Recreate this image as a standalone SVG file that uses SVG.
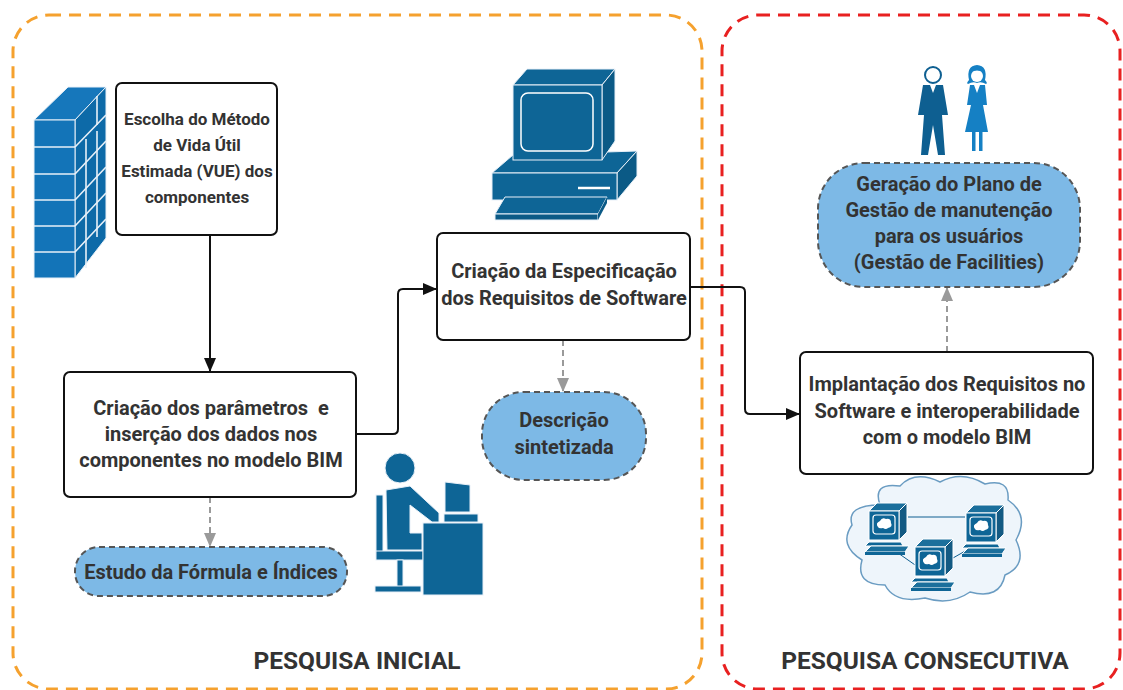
<svg xmlns="http://www.w3.org/2000/svg" xmlns:xlink="http://www.w3.org/1999/xlink" width="1123" height="690" viewBox="0 0 1123 690">
  <style>
    .txt { font-family: Roboto, "Liberation Sans", sans-serif; font-weight: 700; font-size: 20px; fill: #333333; text-anchor: middle; }
    .txt.sm { font-size: 17px; }
    .title { font-family: Roboto, "Liberation Sans", sans-serif; font-weight: 700; font-size: 24.5px; fill: #333333; text-anchor: middle; }
    .box { fill: #ffffff; stroke: #111111; stroke-width: 2; }
    .pill { fill: #7db9e6; stroke: #555555; stroke-width: 2; stroke-dasharray: 6 4; }
    .flow { fill: none; stroke: #111111; stroke-width: 2; }
    .note { fill: none; stroke: #9a9a9a; stroke-width: 2; stroke-dasharray: 6 4; }
    .ico { fill: #0e6596; }
  </style>
  <defs>
    <marker id="arrBlack" markerWidth="14" markerHeight="12" refX="13" refY="6" orient="auto" markerUnits="userSpaceOnUse">
      <path d="M0,0 L14,6 L0,12 Z" fill="#111111"/>
    </marker>
    <marker id="arrGrey" markerWidth="14" markerHeight="12" refX="13" refY="6" orient="auto" markerUnits="userSpaceOnUse">
      <path d="M0,0 L14,6 L0,12 Z" fill="#9a9a9a"/>
    </marker>
    <!-- small networked workstation -->
    <g id="ws">
      <path d="M0,9 L8,1 L38,1 L30,9 Z" fill="#1b6f9c" stroke="#ffffff" stroke-width="1"/>
      <path d="M30,9 L38,1 L38,30 L30,38 Z" fill="#135a83" stroke="#ffffff" stroke-width="1"/>
      <rect x="0" y="9" width="30" height="29" fill="#0e6596" stroke="#ffffff" stroke-width="1"/>
      <rect x="4" y="13" width="22" height="19" rx="3" fill="#0e6596" stroke="#ffffff" stroke-width="1.2"/>
      <path d="M9,25 q-3,-4 2,-6 q2,-4 6,-2 q5,-1 5,4 q2,4 -3,5 q-2,2 -5,0 q-4,1 -5,-1 Z" fill="#ffffff"/>
      <path d="M0,40 L32,40 L34,44 L-4,44 Z" fill="#0e6596" stroke="#ffffff" stroke-width="1"/>
      <path d="M2,44 L40,44 L36,50 L-4,50 Z" fill="#1b6f9c" stroke="#ffffff" stroke-width="1"/>
      <path d="M-4,50 L36,50 L36,53 L-4,53 Z" fill="#0e6596"/>
    </g>
  </defs>

  <!-- phase frames -->
  <g id="phase-inicial">
    <rect x="13" y="15" width="689" height="674" rx="36" fill="none" stroke="#f5a12e" stroke-width="3" stroke-dasharray="12 8"/>
    <text class="title" x="357" y="669">PESQUISA INICIAL</text>
  </g>
  <g id="phase-consecutiva">
    <rect x="722" y="15" width="398" height="674" rx="36" fill="none" stroke="#e82020" stroke-width="3" stroke-dasharray="12 8"/>
    <text class="title" x="925" y="669">PESQUISA CONSECUTIVA</text>
  </g>

  <!-- connectors -->
  <g id="connectors">
    <path class="flow" d="M210,235 L210,371" marker-end="url(#arrBlack)"/>
    <path class="flow" d="M356,434 L393,434 Q398,434 398,429 L398,294 Q398,289 403,289 L436,289" marker-end="url(#arrBlack)"/>
    <path class="flow" d="M690,287 L740,287 Q745,287 745,292 L745,409 Q745,414 750,414 L799,414" marker-end="url(#arrBlack)"/>
    <path class="note" d="M210,497 L210,546" marker-end="url(#arrGrey)"/>
    <path class="note" d="M563,340 L563,391" marker-end="url(#arrGrey)"/>
    <path class="note" d="M947,352 L947,288" marker-end="url(#arrGrey)"/>
  </g>

  <!-- process nodes -->
  <g id="n-metodo">
    <rect class="box" x="116" y="83" width="161" height="152" rx="6"/>
    <text class="txt sm" x="197" y="125">Escolha do Método</text>
    <text class="txt sm" x="197" y="151">de Vida Útil</text>
    <text class="txt sm" x="197" y="177">Estimada (VUE) dos</text>
    <text class="txt sm" x="197" y="203">componentes</text>
  </g>
  <g id="n-parametros">
    <rect class="box" x="64" y="372" width="292" height="125" rx="6"/>
    <text class="txt" x="211" y="415" xml:space="preserve">Criação dos parâmetros  e</text>
    <text class="txt" x="211" y="441">inserção dos dados nos</text>
    <text class="txt" x="211" y="467">componentes no modelo BIM</text>
  </g>
  <g id="n-especificacao">
    <rect class="box" x="437" y="233" width="253" height="107" rx="6"/>
    <text class="txt" x="564" y="278">Criação da Especificação</text>
    <text class="txt" x="564" y="305">dos Requisitos de Software</text>
  </g>
  <g id="n-implantacao">
    <rect class="box" x="800" y="352" width="293" height="122" rx="6"/>
    <text class="txt" x="947" y="391">Implantação dos Requisitos no</text>
    <text class="txt" x="947" y="418">Software e interoperabilidade</text>
    <text class="txt" x="947" y="444">com o modelo BIM</text>
  </g>

  <!-- terminal nodes -->
  <g id="t-formula">
    <rect class="pill" x="75" y="547" width="272" height="49" rx="24"/>
    <text class="txt" x="211" y="579">Estudo da Fórmula e Índices</text>
  </g>
  <g id="t-descricao">
    <rect class="pill" x="482" y="392" width="164" height="88" rx="42"/>
    <text class="txt" x="564" y="427">Descrição</text>
    <text class="txt" x="564" y="454">sintetizada</text>
  </g>
  <g id="t-gestao">
    <rect class="pill" x="818" y="163" width="262" height="124" rx="46"/>
    <text class="txt" x="949" y="191">Geração do Plano de</text>
    <text class="txt" x="949" y="217">Gestão de manutenção</text>
    <text class="txt" x="949" y="243">para os usuários</text>
    <text class="txt" x="949" y="269">(Gestão de Facilities)</text>
  </g>

  <!-- brick wall -->
  <g id="icon-wall">
    <path d="M34,120 L68,87 L106,87 L75,120 Z" fill="#1677bb" stroke="#e8f0f8" stroke-width="1"/>
    <path d="M75,120 L106,87 L106,238 L75,278 Z" fill="#0d6aa8" stroke="#e8f0f8" stroke-width="1"/>
    <rect x="34" y="120" width="41" height="158" fill="#1374b8" stroke="#e8f0f8" stroke-width="1"/>
    <g stroke="#e8f0f8" stroke-width="1.6" fill="none">
      <path d="M34,147 H75 M34,174 H75 M34,200 H75 M34,226 H75 M34,252 H75"/>
      <path d="M75,147 L106,115 M75,174 L106,141 M75,200 L106,167 M75,226 L106,193 M75,252 L106,219"/>
      <path d="M97,96 V125 M86,139 V166 M97,131 V159 M86,165 V192 M97,157 V185 M86,191 V218 M97,183 V211 M86,217 V244 M97,209 V237 M86,243 V268"/>
    </g>
  </g>

  <!-- desktop computer -->
  <g id="icon-computer">
    <path d="M492,173 L513,155 L637,151 L617,173 Z" class="ico" stroke="#e8f0f8" stroke-width="1"/>
    <path d="M617,173 L637,151 L637,176 L617,200 Z" fill="#0b5a86" stroke="#e8f0f8" stroke-width="1"/>
    <rect x="492" y="173" width="125" height="27" class="ico" stroke="#e8f0f8" stroke-width="1"/>
    <path d="M578,188 H610" stroke="#ffffff" stroke-width="2.5"/>
    <path d="M513,85 L527,69 L615,69 L602,85 Z" class="ico" stroke="#e8f0f8" stroke-width="1"/>
    <path d="M602,85 L615,69 L615,141 L602,160 Z" fill="#0b5a86" stroke="#e8f0f8" stroke-width="1"/>
    <rect x="513" y="85" width="89" height="75" class="ico" stroke="#e8f0f8" stroke-width="1"/>
    <rect x="521" y="93" width="72" height="58" rx="7" class="ico" stroke="#ffffff" stroke-width="1.5"/>
    <path d="M505,197 L607,197 L598,214 L495,214 Z" class="ico" stroke="#e8f0f8" stroke-width="1"/>
    <path d="M495,214 L598,214 L598,220 L495,220 Z" fill="#0b5a86" stroke="#e8f0f8" stroke-width="1"/>
    <path d="M598,214 L607,197 L607,203 L598,220 Z" fill="#0b5a86"/>
  </g>

  <!-- person working at a desk -->
  <g id="icon-desk" class="ico" stroke="#e8f0f8" stroke-width="1">
    <circle cx="400" cy="468" r="15"/>
    <rect x="376" y="495" width="7" height="62"/>
    <rect x="376" y="551" width="47" height="9"/>
    <rect x="397" y="560" width="6" height="27"/>
    <rect x="375" y="586" width="46" height="6"/>
    <path d="M386,490 L410,486 L439,513 L439,522 L432,522 L410,505 L410,533 L422,533 L422,550 L387,550 Z"/>
    <rect x="423" y="523" width="60" height="72"/>
    <path d="M445,482 L470,485 L470,512 L445,512 Z"/>
    <rect x="444" y="514" width="34" height="8"/>
  </g>

  <!-- users -->
  <g id="icon-users">
    <circle cx="933" cy="75" r="8" fill="#ffffff" stroke="#0e5f91" stroke-width="2"/>
    <path d="M923,85 L943,85 L948,115 L942,115 L945,155 L938,155 L933,125 L928,155 L921,155 L924,115 L918,115 Z" fill="#0e5f91"/>
    <path d="M930,85 L933,93 L936,85 Z" fill="#ffffff"/>
    <path d="M969,80 Q966,66 977,65 Q988,66 985,80 Q988,83 986,84 Q981,81 977,83 Q973,81 968,84 Q966,83 969,80 Z" fill="#1580c4"/>
    <circle cx="977" cy="76" r="6" fill="#ffffff"/>
    <path d="M969,72 Q977,64 985,72 Q977,69 969,72 Z" fill="#1580c4"/>
    <path d="M970,85 L985,85 L987,105 L983,105 L988,132 L965,132 L971,105 L967,105 Z" fill="#1580c4"/>
    <path d="M974,85 L977,93 L980,85 Z" fill="#ffffff"/>
    <rect x="972" y="132" width="3.5" height="19" fill="#1580c4"/>
    <rect x="979" y="132" width="3.5" height="19" fill="#1580c4"/>
  </g>

  <!-- network cloud -->
  <g id="icon-network">
    <path d="M880,505 Q872,482 900,486 Q915,470 940,482 Q962,470 985,484 Q1010,478 1008,500 Q1030,515 1016,540 Q1028,565 1005,575 Q1000,600 970,592 Q950,606 925,598 Q895,604 885,585 Q855,585 862,560 Q838,545 852,525 Q846,505 880,505 Z" fill="#eef5fb" stroke="#6a9cc2" stroke-width="1.5"/>
    <path d="M908,517 H965 M898,553 L918,567 M953,558 L967,550" stroke="#0e5f91" stroke-width="1"/>
    <use xlink:href="#ws" transform="translate(869,502)"/>
    <use xlink:href="#ws" transform="translate(966,504)"/>
    <use xlink:href="#ws" transform="translate(915,538)"/>
  </g>
</svg>
